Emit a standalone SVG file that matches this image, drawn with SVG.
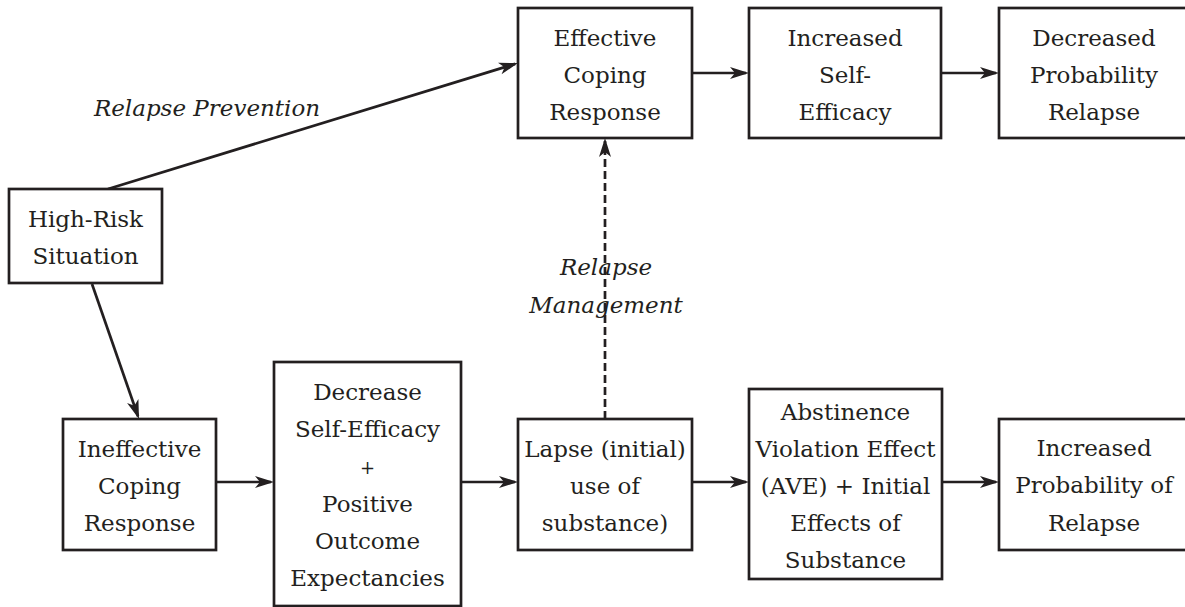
<svg xmlns="http://www.w3.org/2000/svg" width="1185" height="607" viewBox="0 0 1185 607">
<style>
.box{fill:#fff;stroke:#231f20;stroke-width:2.7}
.t{font-family:"DejaVu Serif","Liberation Serif",serif;font-size:23px;fill:#231f20;text-anchor:middle}
.it{font-family:"DejaVu Serif","Liberation Serif",serif;font-style:italic;font-size:23px;fill:#231f20;text-anchor:middle}
.c{fill:none;stroke:#231f20;stroke-width:2.7}
.d{stroke-dasharray:8 4}
</style>
<defs>
<marker id="ah" viewBox="-17 -7 21 14" markerWidth="21" markerHeight="14" refX="0" refY="0" orient="auto" markerUnits="userSpaceOnUse">
<path d="M3,0 L-16,-6 L-11,0 L-16,6 Z" fill="#231f20"/>
</marker>
</defs>
<rect width="1185" height="607" fill="#fff"/>
<g id="connectors">
<line class="c" x1="108" y1="189" x2="515.1" y2="63.9" marker-end="url(#ah)"/>
<line class="c" x1="92" y1="284" x2="138" y2="416.2" marker-end="url(#ah)"/>
<line class="c" x1="692" y1="73" x2="746" y2="73" marker-end="url(#ah)"/>
<line class="c" x1="941" y1="73" x2="996" y2="73" marker-end="url(#ah)"/>
<line class="c" x1="216" y1="482" x2="271" y2="482" marker-end="url(#ah)"/>
<line class="c" x1="461" y1="482" x2="515" y2="482" marker-end="url(#ah)"/>
<line class="c" x1="692" y1="482" x2="746" y2="482" marker-end="url(#ah)"/>
<line class="c" x1="942" y1="482" x2="996" y2="482" marker-end="url(#ah)"/>
<line class="c d" x1="605" y1="419" x2="605" y2="141" marker-end="url(#ah)"/>
<text class="it" x="207" y="116">Relapse Prevention</text>
<text class="it" x="606" y="275">Relapse</text>
<text class="it" x="606" y="313">Management</text>
</g>
<g id="high-risk">
<rect class="box" x="9" y="189" width="153" height="94"/>
<text class="t" x="85.5" y="227">High-Risk</text>
<text class="t" x="85.5" y="264">Situation</text>
</g>
<g id="effective">
<rect class="box" x="518" y="8" width="174" height="130"/>
<text class="t" x="605" y="46">Effective</text>
<text class="t" x="605" y="83">Coping</text>
<text class="t" x="605" y="120">Response</text>
</g>
<g id="increased-se">
<rect class="box" x="749" y="8" width="192" height="130"/>
<text class="t" x="845" y="46">Increased</text>
<text class="t" x="845" y="83">Self-</text>
<text class="t" x="845" y="120">Efficacy</text>
</g>
<g id="decreased-prob">
<rect class="box" x="999" y="8" width="192" height="130"/>
<text class="t" x="1094" y="46">Decreased</text>
<text class="t" x="1094" y="83">Probability</text>
<text class="t" x="1094" y="120">Relapse</text>
</g>
<g id="ineffective">
<rect class="box" x="63" y="419" width="153" height="131"/>
<text class="t" x="139.5" y="457">Ineffective</text>
<text class="t" x="139.5" y="494">Coping</text>
<text class="t" x="139.5" y="531">Response</text>
</g>
<g id="decrease-se">
<rect class="box" x="274" y="362" width="187" height="244"/>
<text class="t" x="367.5" y="400">Decrease</text>
<text class="t" x="367.5" y="437">Self-Efficacy</text>
<text class="t" x="367.5" y="474" style="font-size:18px">+</text>
<text class="t" x="367.5" y="512">Positive</text>
<text class="t" x="367.5" y="549">Outcome</text>
<text class="t" x="367.5" y="586">Expectancies</text>
</g>
<g id="lapse">
<rect class="box" x="518" y="419" width="174" height="131"/>
<text class="t" x="605" y="457">Lapse (initial)</text>
<text class="t" x="605" y="494">use of</text>
<text class="t" x="605" y="531">substance)</text>
</g>
<g id="ave">
<rect class="box" x="749" y="389" width="193" height="190"/>
<text class="t" x="845.5" y="420">Abstinence</text>
<text class="t" x="845.5" y="457">Violation Effect</text>
<text class="t" x="845.5" y="494">(AVE) + Initial</text>
<text class="t" x="845.5" y="531">Effects of</text>
<text class="t" x="845.5" y="568">Substance</text>
</g>
<g id="increased-prob">
<rect class="box" x="999" y="419" width="192" height="131"/>
<text class="t" x="1094" y="456">Increased</text>
<text class="t" x="1094" y="493">Probability of</text>
<text class="t" x="1094" y="531">Relapse</text>
</g>
</svg>
